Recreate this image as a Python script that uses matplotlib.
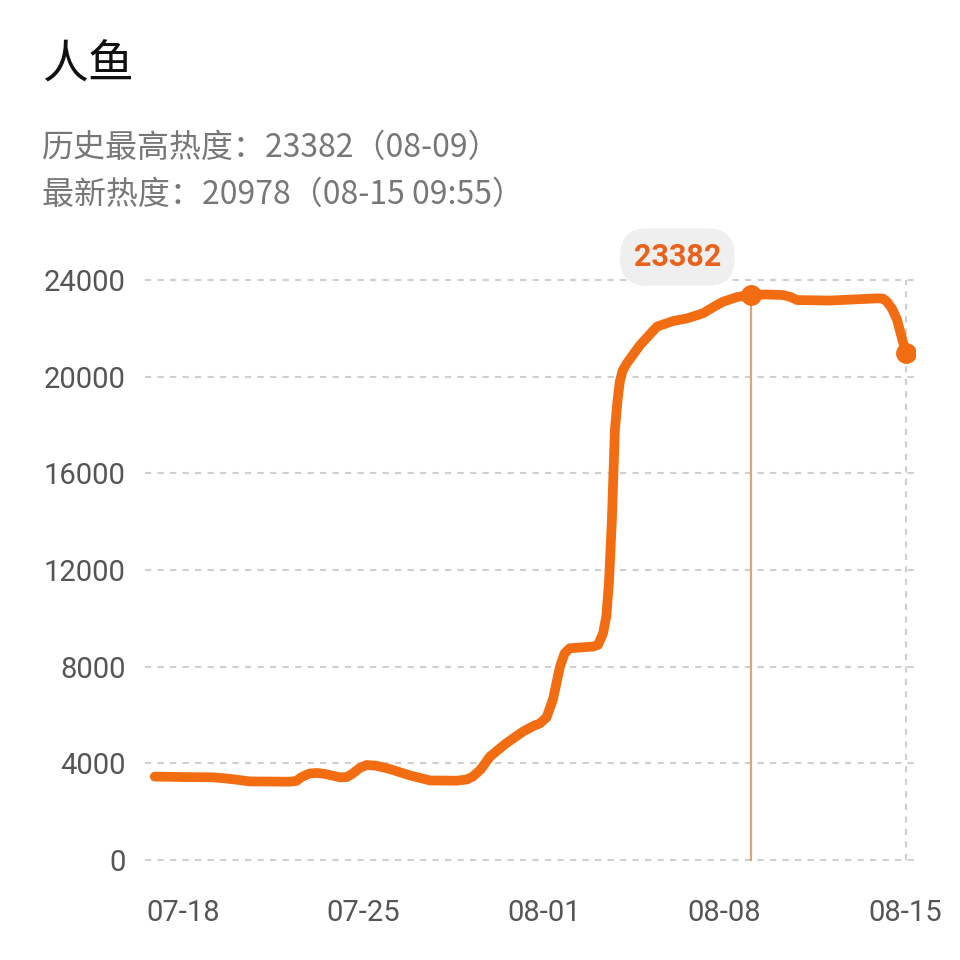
import numpy as np
import matplotlib
matplotlib.use('Agg')
import matplotlib.pyplot as plt

plt.rcParams['font.family'] = ['Noto Sans CJK SC', 'DejaVu Sans']

# days counted from 07-18
days = [-1.09, 0.08, 1.16, 1.6, 2.02, 2.6, 4.15, 4.4, 4.6, 4.92, 5.2, 5.51, 6.09,
        6.35, 6.55, 6.85, 7.12, 7.5, 8.03, 8.8, 9.58, 10.62, 11.0, 11.24, 11.55,
        11.9, 12.5, 13.18, 13.6, 13.84, 14.1, 14.35, 14.5, 14.62, 14.8, 15.0,
        15.9, 16.1, 16.29, 16.42, 16.52, 16.63, 16.75, 16.85, 16.94, 17.05, 17.21,
        17.72, 18.38, 19.0, 19.54, 20.16, 20.6, 20.94, 21.5, 22.02, 22.6, 23.26,
        23.55, 23.81, 25.09, 26.91, 27.15, 27.3, 27.5, 27.69, 27.9, 28.04]
heat = [3450, 3430, 3420, 3380, 3330, 3250, 3240, 3270, 3430, 3580, 3600, 3560, 3420,
        3430, 3550, 3800, 3930, 3900, 3760, 3500, 3290, 3280, 3330, 3450, 3750,
        4270, 4800, 5310, 5550, 5650, 5900, 6650, 7400, 8000, 8550, 8760,
        8830, 8900, 9380, 10100, 11500, 14000, 17800, 19000, 19800, 20250, 20550,
        21300, 22070, 22300, 22410, 22620, 22900, 23100, 23300, 23382, 23400, 23380,
        23300, 23170, 23150, 23240, 23230, 23100, 22800, 22350, 21500, 20978]
tick_days = [0, 7, 14, 21, 28]
tick_labels = ['07-18', '07-25', '08-01', '08-08', '08-15']
y_ticks = [0, 4000, 8000, 12000, 16000, 20000, 24000]

title = '人鱼'
line1 = '历史最高热度：23382（08-09）'
line2 = '最新热度：20978（08-15 09:55）'

orange = '#f26c12'
grid_c = '#cfcfcf'

fig = plt.figure(figsize=(9.6, 9.6), dpi=100)
ax = fig.add_axes([0.151, 0.0891, 0.802, 0.6444])

for v in y_ticks:
    ax.axhline(v, color=grid_c, lw=1.5, ls=(0, (3, 3)), zorder=1)
ax.plot([days[-1], days[-1]], [0, 24000], color=grid_c, lw=1.5,
        ls=(0, (3, 3)), zorder=1)

peak_i = int(np.argmax(heat))
peak_i = heat.index(23382)
ax.plot([days[peak_i], days[peak_i]], [0, heat[peak_i]], color='#d6a777',
        lw=1.6, zorder=2)

ax.plot(days, heat, color=orange, lw=7, solid_joinstyle='round',
        solid_capstyle='round', zorder=3)
ax.plot([days[peak_i], days[-1]], [heat[peak_i], heat[-1]], 'o', color=orange,
        ms=14, zorder=4)

ax.text(days[peak_i] - 2.85, 24950, str(heat[peak_i]), ha='center', va='center',
        fontsize=22, fontweight='bold', color='#e8621c', family='Roboto',
        bbox=dict(boxstyle='round,pad=0.45,rounding_size=0.9', fc='#efefef',
                  ec='none'), zorder=5)

ax.set_xlim(-1.47, 28.38)
ax.set_ylim(-600, 25000)
ax.set_yticks(y_ticks)
ax.set_yticklabels([str(v) for v in y_ticks], family='Roboto', fontsize=21,
                   color='#555555')
ax.set_xticks(tick_days)
ax.set_xticklabels(tick_labels, family='Roboto', fontsize=21, color='#555555')
ax.tick_params(length=0, pad=14)
ax.tick_params(axis='x', pad=18)
for s in ax.spines.values():
    s.set_visible(False)

fig.text(0.044, 0.932, title, fontsize=33, color='#111111', va='center')
fig.text(0.044, 0.846, line1, fontsize=23, color='#777777', va='center')
fig.text(0.044, 0.797, line2, fontsize=23, color='#777777', va='center')

fig.savefig('out.png', dpi=100, facecolor='white')
